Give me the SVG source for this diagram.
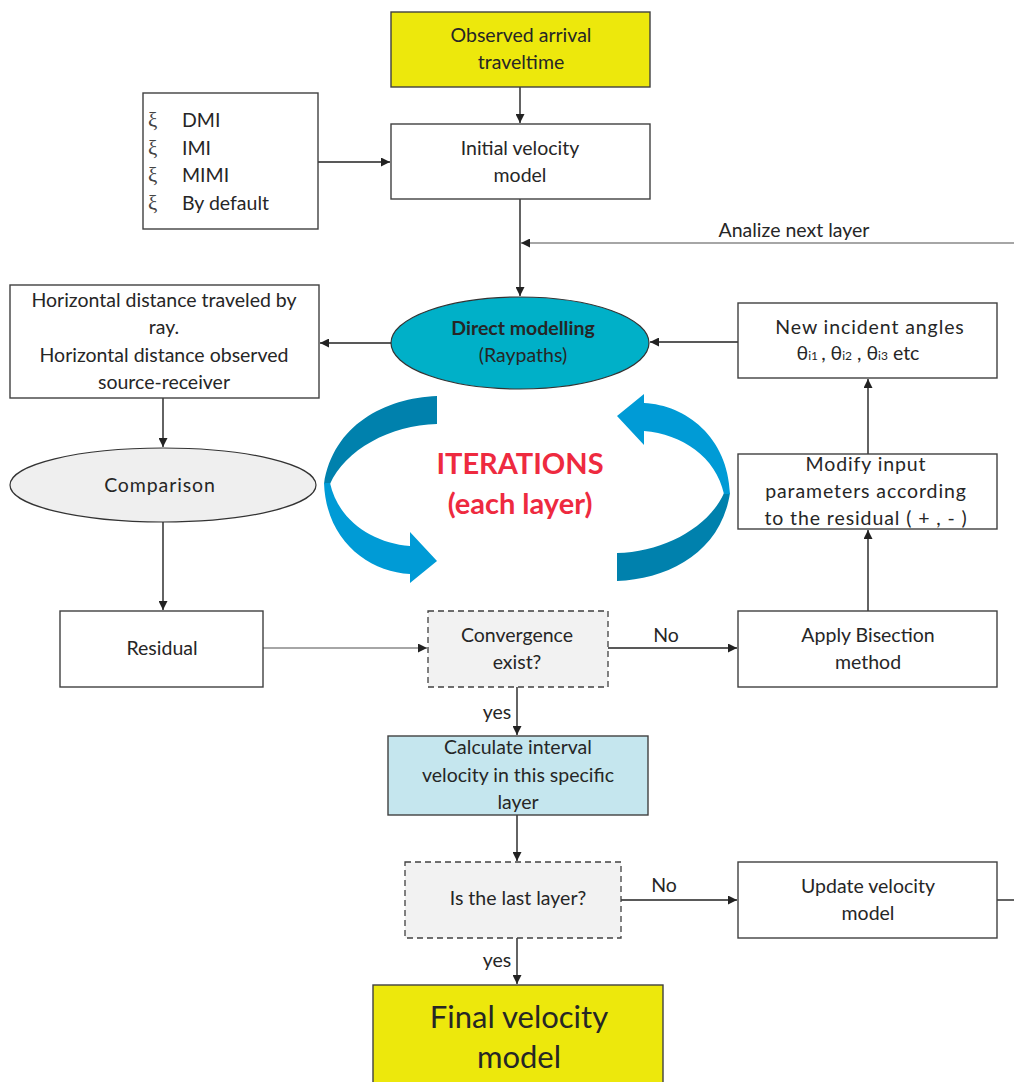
<svg xmlns="http://www.w3.org/2000/svg" width="1014" height="1082" viewBox="0 0 1014 1082">
<defs>
<marker id="ah" markerUnits="userSpaceOnUse" markerWidth="9" markerHeight="9" refX="9" refY="4.5" orient="auto">
<path d="M0,0 L9,4.5 L0,9 z" fill="#222"/>
</marker>
<style>
.box{fill:#fff;stroke:#404040;stroke-width:1.4}
.dash{fill:#f2f2f2;stroke:#404040;stroke-width:1.3;stroke-dasharray:6,4}
.yel{fill:#ede80c;stroke:#404040;stroke-width:1.4}
.t{font-family:Lato,"Liberation Sans",sans-serif;font-size:19.5px;fill:#262626;text-anchor:middle}
.ts{letter-spacing:0.9px}
.xi{font-family:"Liberation Serif",serif;font-size:21px;fill:#444}
.big{font-size:31px}
.c{fill:none;stroke:#222;stroke-width:1.4;marker-end:url(#ah)}
.cg{fill:none;stroke:#888;stroke-width:1.4;marker-end:url(#ah)}
.dark{fill:#0081ad}
.light{fill:#009bd6}
.red{font-family:Lato,"Liberation Sans",sans-serif;font-size:29px;font-weight:bold;fill:#ee2a3f;text-anchor:middle}
</style>
</defs>
<rect width="1014" height="1082" fill="#fff"/>

<g id="connectors">
<path class="c" d="M520,87 V123"/>
<path class="c" d="M318,162 H390"/>
<path class="c" d="M520,199 V296"/>
<path class="cg" d="M1014,243 H521"/>
<path class="c" d="M391,343 H320"/>
<path class="c" d="M738,342 H650"/>
<path class="c" d="M868,454 V379"/>
<path class="c" d="M868,611 V530"/>
<path class="c" d="M163,398 V447"/>
<path class="c" d="M163,522 V610"/>
<path class="cg" d="M263,648 H427"/>
<path class="c" d="M608,648 H737"/>
<path class="c" d="M517,687 V735"/>
<path class="c" d="M517,815 V861"/>
<path class="c" d="M621,900 H737"/>
<path fill="none" stroke="#222" stroke-width="1.4" d="M997,900 H1014"/>
<path class="c" d="M517,938 V984"/>
<text class="t" x="794" y="237">Analize next layer</text>
<text class="t" x="666" y="642">No</text>
<text class="t" x="497" y="719">yes</text>
<text class="t" x="664" y="892">No</text>
<text class="t" x="497" y="967">yes</text>
</g>

<g id="observed">
<rect class="yel" x="391" y="12" width="259" height="75"/>
<text class="t" x="521" y="42">Observed arrival</text>
<text class="t" x="521" y="69">traveltime</text>
</g>

<g id="methods">
<rect class="box" x="143" y="93" width="175" height="136"/>
<text class="xi" x="148" y="127">ξ</text>
<text class="xi" x="148" y="155">ξ</text>
<text class="xi" x="148" y="182">ξ</text>
<text class="xi" x="148" y="210">ξ</text>
<g class="t" style="text-anchor:start">
<text x="182" y="127">DMI</text>
<text x="182" y="155">IMI</text>
<text x="182" y="182">MIMI</text>
<text x="182" y="210">By default</text>
</g>
</g>

<g id="initial">
<rect class="box" x="391" y="124" width="259" height="75"/>
<text class="t" x="520" y="155">Initial velocity</text>
<text class="t" x="520" y="182">model</text>
</g>

<g id="direct">
<ellipse cx="520" cy="343" rx="129" ry="46" fill="#00b0c8" stroke="#333" stroke-width="1.2"/>
<text class="t" x="523" y="335" font-weight="bold">Direct modelling</text>
<text class="t" x="523" y="362">(Raypaths)</text>
</g>

<g id="horizontal">
<rect class="box" x="10" y="285" width="309" height="113"/>
<text class="t" x="164" y="307">Horizontal distance traveled by</text>
<text class="t" x="164" y="334">ray.</text>
<text class="t" x="164" y="362">Horizontal distance observed</text>
<text class="t" x="164" y="389">source-receiver</text>
</g>

<g id="incident">
<rect class="box" x="738" y="303" width="259" height="75"/>
<text class="t ts" x="870" y="334">New incident angles</text>
<text class="t" x="858" y="360">θ<tspan font-size="12">i1 </tspan>, θ<tspan font-size="12">i2</tspan> , θ<tspan font-size="12">i3</tspan> etc</text>
</g>

<g id="modify">
<rect class="box" x="738" y="454" width="259" height="75"/>
<text class="t ts" x="866" y="471">Modify input</text>
<text class="t ts" x="866" y="498">parameters according</text>
<text class="t ts" x="866" y="525">to the residual ( + , - )</text>
</g>

<g id="iterations">
<g id="leftarrow">
<path class="dark" d="M437,396 C385,398 333,425 324,484 L330,484 C345,450 390,425 437,424 Z"/>
<path class="light" d="M324,483 C326,540 368,572 410,574 L410,583 L437,561 L410,532 L410,546 C372,543 338,520 330,483 Z"/>
</g>
<g id="rightarrow" transform="rotate(180 527 488.5)">
<path class="dark" d="M437,396 C385,398 333,425 324,484 L330,484 C345,450 390,425 437,424 Z"/>
<path class="light" d="M324,483 C326,540 368,572 410,574 L410,583 L437,561 L410,532 L410,546 C372,543 338,520 330,483 Z"/>
</g>
<text class="red" x="520" y="474">ITERATIONS</text>
<text class="red" x="520" y="514">(each layer)</text>
</g>

<g id="comparison">
<ellipse cx="163" cy="485" rx="153" ry="37" fill="#efefef" stroke="#333" stroke-width="1.2"/>
<text class="t ts" x="160" y="492">Comparison</text>
</g>

<g id="residual">
<rect class="box" x="60" y="611" width="203" height="76"/>
<text class="t" x="162" y="655">Residual</text>
</g>

<g id="convergence">
<rect class="dash" x="428" y="611" width="180" height="76"/>
<text class="t" x="517" y="642">Convergence</text>
<text class="t" x="517" y="669">exist?</text>
</g>

<g id="bisection">
<rect class="box" x="738" y="611" width="259" height="76"/>
<text class="t" x="868" y="642">Apply Bisection</text>
<text class="t" x="868" y="669">method</text>
</g>

<g id="calculate">
<rect x="388" y="736" width="260" height="79" fill="#c5e6ee" stroke="#404040" stroke-width="1.4"/>
<text class="t" x="518" y="754">Calculate interval</text>
<text class="t" x="518" y="782">velocity in this specific</text>
<text class="t" x="518" y="809">layer</text>
</g>

<g id="lastlayer">
<rect class="dash" x="405" y="862" width="216" height="76"/>
<text class="t" x="518" y="905">Is the last layer?</text>
</g>

<g id="update">
<rect class="box" x="738" y="862" width="259" height="76"/>
<text class="t" x="868" y="893">Update velocity</text>
<text class="t" x="868" y="920">model</text>
</g>

<g id="final">
<rect class="yel" x="373" y="985" width="290" height="110"/>
<text class="t big" x="519" y="1028">Final velocity</text>
<text class="t big" x="519" y="1068">model</text>
</g>
</svg>
